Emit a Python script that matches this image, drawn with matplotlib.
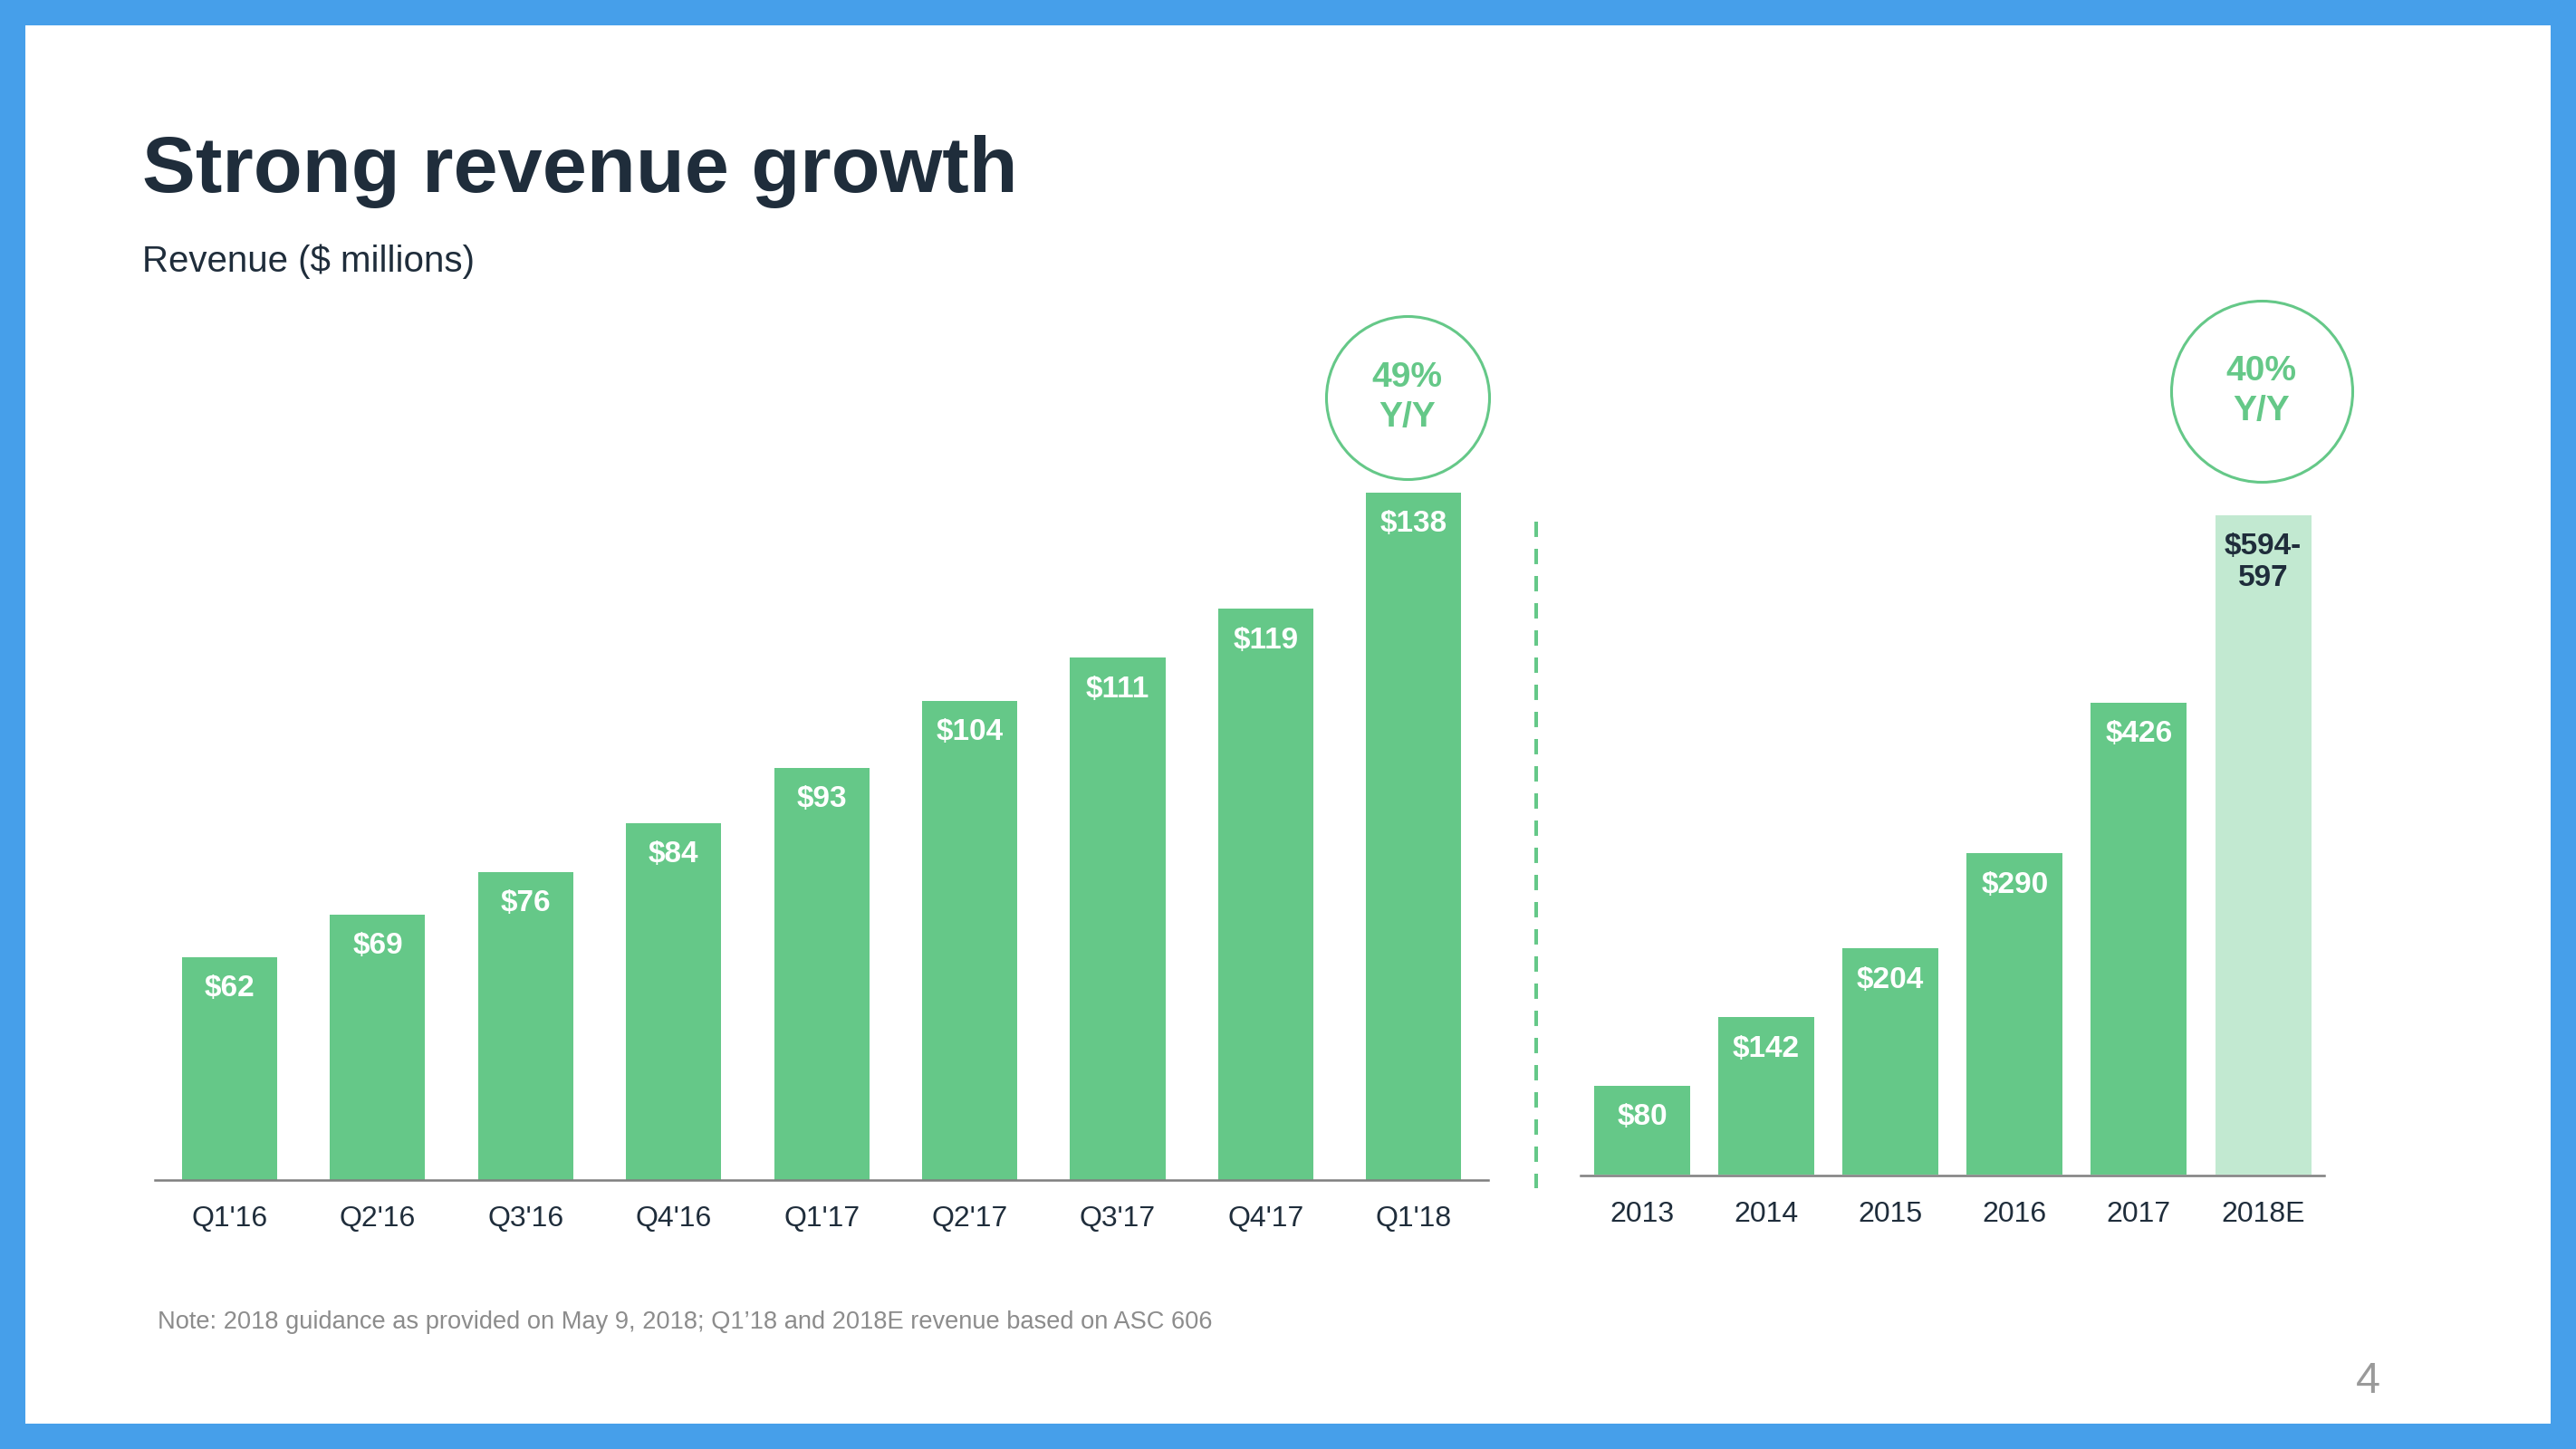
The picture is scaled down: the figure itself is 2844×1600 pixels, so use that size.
import matplotlib
matplotlib.use("Agg")
import matplotlib.pyplot as plt
from matplotlib.patches import Rectangle
from matplotlib.lines import Line2D
from matplotlib.transforms import offset_copy

plt.rcParams['font.family'] = ['Liberation Sans', 'DejaVu Sans']
plt.rcParams['lines.scale_dashes'] = False

# data
quarters = ["Q1'16", "Q2'16", "Q3'16", "Q4'16", "Q1'17", "Q2'17", "Q3'17", "Q4'17", "Q1'18"]
quarterly_revenue = [62, 69, 76, 84, 93, 104, 111, 119, 138]
quarterly_labels = ['$' + str(v) for v in quarterly_revenue]

years = ['2013', '2014', '2015', '2016', '2017', '2018E']
annual_revenue = [80, 142, 204, 290, 426, 595.5]   # 2018E shown as the 594-597 guidance range
annual_labels = ['$80', '$142', '$204', '$290', '$426', '$594-\n597']

quarter_growth = '49%\nY/Y'
annual_growth = '40%\nY/Y'

GREEN = '#65c888'
LIGHT = '#c2e9d1'
DARK = '#1f2d3b'
BLUE = '#469fea'
W, H = 2844, 1600

fig = plt.figure(figsize=(W / 100, H / 100), dpi=100)
fig.set_facecolor(BLUE)
fig.add_artist(Rectangle((28 / W, 28 / H), (W - 56) / W, (H - 56) / H,
                         transform=fig.transFigure, facecolor='white', edgecolor='none', zorder=0))

fig.text(157 / W, 1 - 212 / H, 'Strong revenue growth', fontsize=63.5, fontweight='bold',
         color=DARK, ha='left', va='baseline')
fig.text(157 / W, 1 - 300 / H, 'Revenue ($ millions)', fontsize=29, color=DARK,
         ha='left', va='baseline')


def style(ax):
    for s in ['top', 'left', 'right']:
        ax.spines[s].set_visible(False)
    ax.spines['bottom'].set_color('#7f7f7f')
    ax.spines['bottom'].set_linewidth(1.8)
    ax.set_yticks([])
    ax.tick_params(axis='x', length=0, pad=20, labelsize=23, labelcolor=DARK)
    ax.patch.set_alpha(0)


def bar_labels(ax, xs, vals, labels, colors):
    for x, v, lab, c in zip(xs, vals, labels, colors):
        ax.annotate(lab, (x, v), xytext=(0, -14), textcoords='offset points',
                    ha='center', va='top', fontsize=24, fontweight='bold', color=c,
                    linespacing=1.15)


def growth_circle(ax, x, v, text, dx, rise, diam):
    tr = offset_copy(ax.transData, fig=fig, x=dx, y=rise, units='dots')
    ax.plot([x], [v], marker='o', markersize=diam * 0.72, markerfacecolor='white',
            markeredgecolor=GREEN, markeredgewidth=2.2, transform=tr, clip_on=False)
    ax.text(x, v, text, transform=tr, ha='center', va='center', fontsize=28,
            fontweight='bold', color=GREEN, linespacing=1.3)


# quarterly panel
ax1 = fig.add_axes([171 / W, 1 - 1303 / H, 1472 / W, 1000 / H])
x1 = list(range(len(quarters)))
ax1.bar(x1, quarterly_revenue, width=0.643, color=GREEN)
ax1.set_xlim(-0.505, 8.503)
ax1.set_ylim(25.56, 25.56 + 1000 / 6.75)
ax1.set_xticks(x1)
ax1.set_xticklabels(quarters)
style(ax1)
bar_labels(ax1, x1, quarterly_revenue, quarterly_labels, ['white'] * len(x1))
growth_circle(ax1, x1[-1], quarterly_revenue[-1], quarter_growth, -7, 105, 180)

# annual panel
ax2 = fig.add_axes([1745 / W, 1 - 1298 / H, 821 / W, 1000 / H])
x2 = list(range(len(years)))
ax2.bar(x2, annual_revenue, width=0.773, color=[GREEN] * 5 + [LIGHT])
ax2.set_xlim(-0.496, 5.492)
ax2.set_ylim(-1, -1 + 1000 / 1.2225)
ax2.set_xticks(x2)
ax2.set_xticklabels(years)
style(ax2)
bar_labels(ax2, x2, annual_revenue, annual_labels, ['white'] * 5 + [DARK])
growth_circle(ax2, x2[-1], annual_revenue[-1], annual_growth, -2, 137, 200)

# separator
fig.add_artist(Line2D([1696 / W] * 2, [1 - 576 / H, 1 - 1312 / H], transform=fig.transFigure,
                      color=GREEN, linewidth=2.9, dashes=(12.2, 9.4)))

fig.text(174 / W, 1 - 1460 / H,
         "Note: 2018 guidance as provided on May 9, 2018; Q1\u201918 and 2018E revenue based on ASC 606",
         fontsize=19.6, color='#8c8c8c', ha='left', va='center')
fig.text(2614 / W, 1 - 1525 / H, '4', fontsize=35, color='#9a9a9a', ha='center', va='center')

fig.savefig('out.png', dpi=100, facecolor=fig.get_facecolor())
